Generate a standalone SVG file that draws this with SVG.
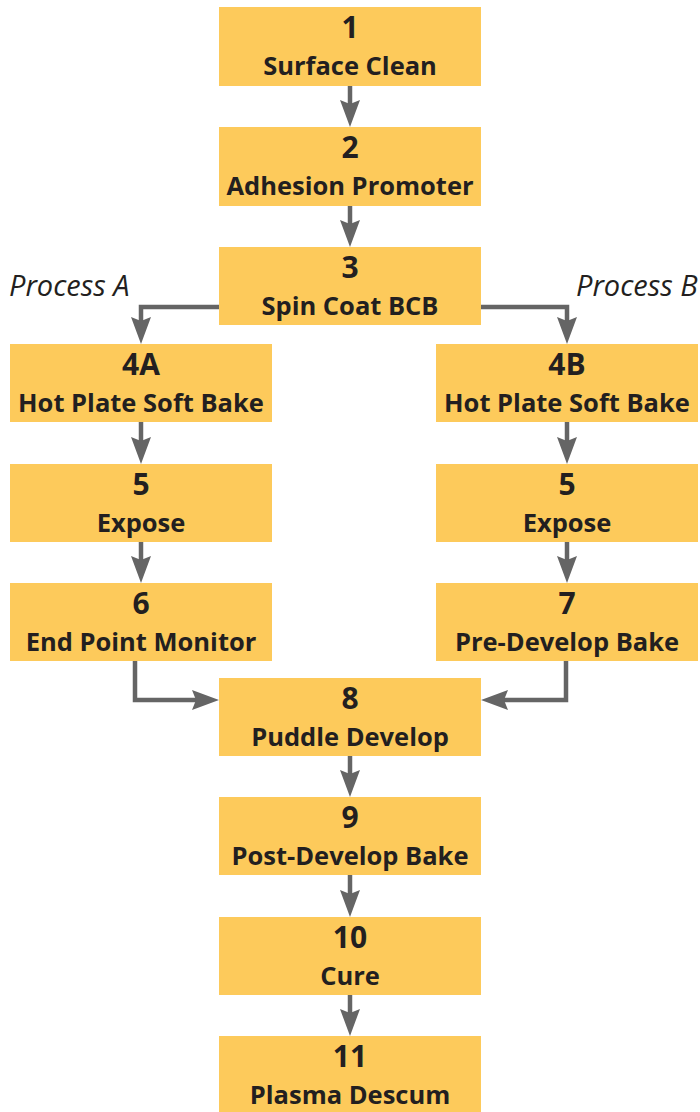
<svg xmlns="http://www.w3.org/2000/svg" width="700" height="1112" viewBox="0 0 700 1112">
<style>
.box{fill:#FDCA5B;}
.t{font-family:"Open Sans","Noto Sans",sans-serif;font-weight:bold;fill:#231F20;text-anchor:middle;}
.num{font-size:30px;}
.lbl{font-size:25.5px;}
.proc{font-family:"Open Sans","Noto Sans",sans-serif;font-style:italic;font-size:29px;fill:#231F20;}
.con{fill:none;stroke:#656565;stroke-width:4.5;marker-end:url(#ah);}
</style>
<defs>
<marker id="ah" viewBox="0 0 27 20" markerWidth="27" markerHeight="20" refX="7" refY="10" orient="auto" markerUnits="userSpaceOnUse">
<path d="M0,0 L27,10 L0,20 L4,10 z" fill="#656565"/>
</marker>
</defs>
<rect width="700" height="1112" fill="#ffffff"/>
<g id="connectors">
<path class="con" d="M350,86 V107"/>
<path class="con" d="M350,206 V227"/>
<path class="con" d="M219,307 H141 V324"/>
<path class="con" d="M481,307 H567 V324"/>
<path class="con" d="M141,422 V444"/>
<path class="con" d="M567,422 V444"/>
<path class="con" d="M141,542 V563"/>
<path class="con" d="M567,542 V563"/>
<path class="con" d="M135,661 V700 H199"/>
<path class="con" d="M566,661 V700 H501"/>
<path class="con" d="M350,756 V777"/>
<path class="con" d="M350,875 V897"/>
<path class="con" d="M350,995 V1016"/>
</g>
<text class="proc" x="9" y="296">Process A</text>
<text class="proc" x="576" y="296">Process B</text>
<g id="n1"><rect class="box" x="219" y="7" width="262" height="79"/><text class="t"><tspan class="num" x="350" y="38">1</tspan><tspan class="lbl" x="350" y="74.5">Surface Clean</tspan></text></g>
<g id="n2"><rect class="box" x="219" y="127" width="262" height="79"/><text class="t"><tspan class="num" x="350" y="158">2</tspan><tspan class="lbl" x="350" y="194.5">Adhesion Promoter</tspan></text></g>
<g id="n3"><rect class="box" x="219" y="247" width="262" height="78"/><text class="t"><tspan class="num" x="350" y="278">3</tspan><tspan class="lbl" x="350" y="314.5">Spin Coat BCB</tspan></text></g>
<g id="n4a"><rect class="box" x="10" y="344" width="262" height="78"/><text class="t"><tspan class="num" x="141" y="375">4A</tspan><tspan class="lbl" x="141" y="411.5">Hot Plate Soft Bake</tspan></text></g>
<g id="n4b"><rect class="box" x="436" y="344" width="262" height="78"/><text class="t"><tspan class="num" x="567" y="375">4B</tspan><tspan class="lbl" x="567" y="411.5">Hot Plate Soft Bake</tspan></text></g>
<g id="n5a"><rect class="box" x="10" y="464" width="262" height="78"/><text class="t"><tspan class="num" x="141" y="495">5</tspan><tspan class="lbl" x="141" y="531.5">Expose</tspan></text></g>
<g id="n5b"><rect class="box" x="436" y="464" width="262" height="78"/><text class="t"><tspan class="num" x="567" y="495">5</tspan><tspan class="lbl" x="567" y="531.5">Expose</tspan></text></g>
<g id="n6"><rect class="box" x="10" y="583" width="262" height="78"/><text class="t"><tspan class="num" x="141" y="614">6</tspan><tspan class="lbl" x="141" y="650.5">End Point Monitor</tspan></text></g>
<g id="n7"><rect class="box" x="436" y="583" width="262" height="78"/><text class="t"><tspan class="num" x="567" y="614">7</tspan><tspan class="lbl" x="567" y="650.5">Pre-Develop Bake</tspan></text></g>
<g id="n8"><rect class="box" x="219" y="678" width="262" height="78"/><text class="t"><tspan class="num" x="350" y="709">8</tspan><tspan class="lbl" x="350" y="745.5">Puddle Develop</tspan></text></g>
<g id="n9"><rect class="box" x="219" y="797" width="262" height="78"/><text class="t"><tspan class="num" x="350" y="828">9</tspan><tspan class="lbl" x="350" y="864.5">Post-Develop Bake</tspan></text></g>
<g id="n10"><rect class="box" x="219" y="917" width="262" height="78"/><text class="t"><tspan class="num" x="350" y="948">10</tspan><tspan class="lbl" x="350" y="984.5">Cure</tspan></text></g>
<g id="n11"><rect class="box" x="219" y="1036" width="262" height="78"/><text class="t"><tspan class="num" x="350" y="1067">11</tspan><tspan class="lbl" x="350" y="1103.5">Plasma Descum</tspan></text></g>
</svg>
